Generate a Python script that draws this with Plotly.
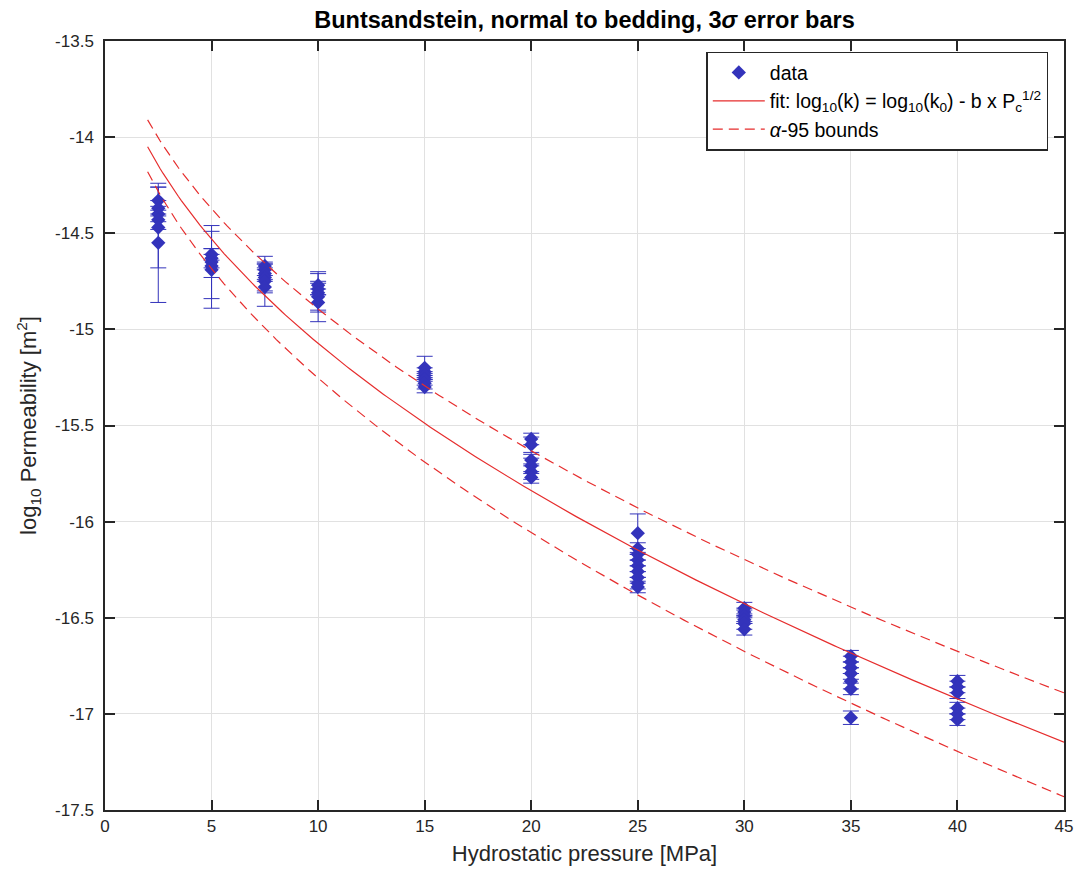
import numpy as np
import plotly.graph_objects as go

# ---- data ----
pressures = [2.5, 5, 7.5, 10, 15, 20, 25, 30, 35, 40]
logk_values = [
    [-14.33, -14.37, -14.40, -14.43, -14.47, -14.55],
    [-14.61, -14.63, -14.65, -14.67, -14.69],
    [-14.67, -14.69, -14.71, -14.73, -14.75, -14.78],
    [-14.77, -14.79, -14.81, -14.83, -14.86],
    [-15.20, -15.22, -15.24, -15.26, -15.28, -15.30],
    [-15.57, -15.60, -15.68, -15.71, -15.74, -15.77],
    [-16.06, -16.14, -16.17, -16.20, -16.23, -16.26, -16.29, -16.32, -16.34],
    [-16.45, -16.47, -16.49, -16.51, -16.53, -16.56],
    [-16.70, -16.73, -16.76, -16.79, -16.83, -16.87, -17.02],
    [-16.83, -16.86, -16.89, -16.97, -17.00, -17.03],
]
logk_errors = [
    [0.07, 0.04, 0.04, 0.05, 0.21, 0.31],
    [0.03, 0.05, 0.19, 0.06, 0.20],
    [0.02, 0.03, 0.03, 0.07, 0.13, 0.03],
    [0.02, 0.03, 0.10, 0.13, 0.04],
    [0.06, 0.02, 0.02, 0.03, 0.03, 0.03],
    [0.03, 0.04, 0.03, 0.04, 0.04, 0.03],
    [0.10, 0.03, 0.03, 0.03, 0.03, 0.03, 0.03, 0.03, 0.03],
    [0.03, 0.02, 0.03, 0.02, 0.03, 0.03],
    [0.03, 0.03, 0.03, 0.03, 0.04, 0.03, 0.035],
    [0.03, 0.03, 0.03, 0.03, 0.03, 0.03],
]

# fit parameters: log10(k) = log10(k0) - b * sqrt(Pc)
fit_log_k0 = -13.223
fit_b = 0.585
upper_log_k0, upper_b = -13.114, 0.563
lower_log_k0, lower_b = -13.312, 0.614
p_range = [2, 45]

x_ticks = [0, 5, 10, 15, 20, 25, 30, 35, 40, 45]
y_ticks = [-17.5, -17, -16.5, -16, -15.5, -15, -14.5, -14, -13.5]

# ---- build ----
xs, ys, es = [], [], []
for p, vals, errs in zip(pressures, logk_values, logk_errors):
    for v, e in zip(vals, errs):
        xs.append(p); ys.append(v); es.append(e)

pc = np.linspace(p_range[0], p_range[1], 300)
fit = fit_log_k0 - fit_b * np.sqrt(pc)
upper = upper_log_k0 - upper_b * np.sqrt(pc)
lower = lower_log_k0 - lower_b * np.sqrt(pc)

blue = "rgb(51,51,187)"
red = "rgb(230,45,45)"
dark = "rgb(38,38,38)"
dash_style = "10px,6px"

fig = go.Figure()
fig.add_trace(go.Scatter(
    x=xs, y=ys, mode="markers", name="data",
    marker=dict(symbol="diamond", size=11, color=blue),
    error_y=dict(type="data", array=es, visible=True, color=blue,
                 thickness=1, width=8),
))
fig.add_trace(go.Scatter(
    x=pc, y=fit, mode="lines",
    name="fit: log<sub>10</sub>(k) = log<sub>10</sub>(k<sub>0</sub>) - b x P<sub>c</sub><sup>1/2</sup>",
    line=dict(color=red, width=1.2),
))
fig.add_trace(go.Scatter(
    x=pc, y=upper, mode="lines", name="<i>α</i>-95 bounds",
    line=dict(color=red, width=1.2, dash=dash_style),
))
fig.add_trace(go.Scatter(
    x=pc, y=lower, mode="lines", name="<i>α</i>-95 bounds", showlegend=False,
    line=dict(color=red, width=1.2, dash=dash_style),
))

axis_common = dict(
    showgrid=True, gridcolor="rgb(225,225,225)", gridwidth=1,
    showline=True, linecolor=dark, linewidth=1.5, mirror="ticks",
    ticks="inside", ticklen=10, tickcolor=dark, tickwidth=1.5,
    tickfont=dict(size=17, color=dark),
    zeroline=False, automargin=False,
)

fig.update_layout(
    width=1077, height=870,
    margin=dict(l=105, r=13, t=41, b=60),
    paper_bgcolor="white", plot_bgcolor="white",
    font=dict(family="Liberation Sans, Arial, Helvetica, sans-serif", color=dark),
    title=dict(text="<b>Buntsandstein, normal to bedding, 3<i>σ</i> error bars</b>",
               x=0.5, xref="paper", xanchor="center",
               y=1 - 20 / 870, yanchor="middle", font=dict(size=23.5, color="black")),
    xaxis=dict(range=[0, 45], tickvals=x_ticks,
               title=dict(text="Hydrostatic pressure [MPa]", font=dict(size=22), standoff=10),
               **axis_common),
    yaxis=dict(range=[-17.5, -13.5], tickvals=y_ticks, ticktext=[str(t) for t in y_ticks],
               ticklabelstandoff=6,
               title=dict(text="log<sub>10</sub> Permeability [m<sup>2</sup>]", font=dict(size=22), standoff=12),
               **axis_common),
    legend=dict(x=0.627, y=0.986, xanchor="left", yanchor="top",
                bgcolor="white", bordercolor=dark, borderwidth=1.5, itemwidth=52,
                font=dict(size=19.5, color="black"), tracegroupgap=0),
    showlegend=True,
)

fig.write_html("out.html")
